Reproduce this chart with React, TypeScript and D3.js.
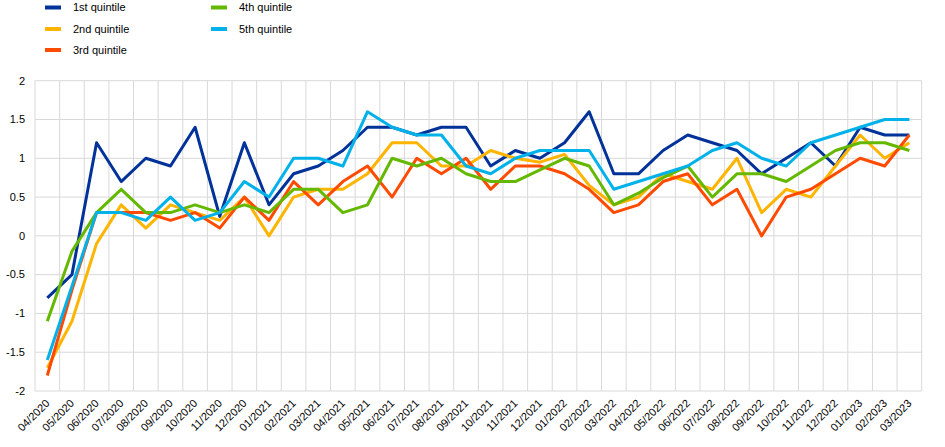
import { useEffect, useRef } from 'react';
import * as d3 from 'd3';

// months on the x axis
const months = [
  '04/2020', '05/2020', '06/2020', '07/2020', '08/2020', '09/2020', '10/2020', '11/2020', '12/2020',
  '01/2021', '02/2021', '03/2021', '04/2021', '05/2021', '06/2021', '07/2021', '08/2021', '09/2021',
  '10/2021', '11/2021', '12/2021', '01/2022', '02/2022', '03/2022', '04/2022', '05/2022', '06/2022',
  '07/2022', '08/2022', '09/2022', '10/2022', '11/2022', '12/2022', '01/2023', '02/2023', '03/2023',
];

const q1 = [-0.8, -0.5, 1.2, 0.7, 1.0, 0.9, 1.4, 0.25, 1.2, 0.4, 0.8, 0.9, 1.1, 1.4, 1.4, 1.3, 1.4, 1.4, 0.9, 1.1, 1.0, 1.2, 1.6, 0.8, 0.8, 1.1, 1.3, 1.2, 1.1, 0.8, 1.0, 1.2, 0.9, 1.4, 1.3, 1.3];
const q2 = [-1.7, -1.1, -0.1, 0.4, 0.1, 0.4, 0.3, 0.2, 0.5, 0.0, 0.5, 0.6, 0.6, 0.8, 1.2, 1.2, 0.9, 0.9, 1.1, 1.0, 0.95, 1.05, 0.65, 0.4, 0.5, 0.8, 0.7, 0.6, 1.0, 0.3, 0.6, 0.5, 0.9, 1.3, 1.0, 1.2];
const q3 = [-1.8, -0.7, 0.3, 0.3, 0.3, 0.2, 0.3, 0.1, 0.5, 0.2, 0.7, 0.4, 0.7, 0.9, 0.5, 1.0, 0.8, 1.0, 0.6, 0.9, 0.9, 0.8, 0.6, 0.3, 0.4, 0.7, 0.8, 0.4, 0.6, 0.0, 0.5, 0.6, 0.8, 1.0, 0.9, 1.3];
const q4 = [-1.1, -0.2, 0.3, 0.6, 0.3, 0.3, 0.4, 0.3, 0.4, 0.3, 0.6, 0.6, 0.3, 0.4, 1.0, 0.9, 1.0, 0.8, 0.7, 0.7, 0.85, 1.0, 0.9, 0.4, 0.55, 0.75, 0.9, 0.5, 0.8, 0.8, 0.7, 0.9, 1.1, 1.2, 1.2, 1.1];
const q5 = [-1.6, -0.65, 0.3, 0.3, 0.2, 0.5, 0.2, 0.3, 0.7, 0.5, 1.0, 1.0, 0.9, 1.6, 1.4, 1.3, 1.3, 0.9, 0.8, 1.0, 1.1, 1.1, 1.1, 0.6, 0.7, 0.8, 0.9, 1.1, 1.2, 1.0, 0.9, 1.2, 1.3, 1.4, 1.5, 1.5];

const seriesNames = ['1st quintile', '2nd quintile', '3rd quintile', '4th quintile', '5th quintile'];
const seriesValues = [q1, q2, q3, q4, q5];
const colors = ['#003299', '#ffb400', '#ff4b00', '#65b800', '#00b1ea'];
const yTicks = [-2, -1.5, -1, -0.5, 0, 0.5, 1, 1.5, 2];

const W = 945;
const H = 447;
const FONT = 'Arial, "Liberation Sans", sans-serif';

export default function App() {
  const ref = useRef<SVGSVGElement | null>(null);

  useEffect(() => {
    const svg = d3.select(ref.current);
    svg.selectAll('*').remove();

    const left = 35;
    const right = 921.7;
    const top = 80.7;
    const bottom = 391;

    const x = d3.scaleBand<string>().domain(months).range([left, right]);
    const y = d3.scaleLinear().domain([-2, 2]).range([bottom, top]);

    // grid
    const grid = svg.append('g').attr('stroke', '#d9d9d9').attr('stroke-width', 1);
    yTicks.forEach(t => {
      grid.append('line')
        .attr('x1', left).attr('x2', right)
        .attr('y1', y(t)).attr('y2', y(t));
    });
    months.forEach(m => {
      grid.append('line')
        .attr('x1', x(m)!).attr('x2', x(m)!)
        .attr('y1', top).attr('y2', bottom);
    });
    grid.append('line').attr('x1', right).attr('x2', right).attr('y1', top).attr('y2', bottom);

    // y labels
    svg.append('g')
      .selectAll('text')
      .data(yTicks)
      .join('text')
      .attr('x', 25)
      .attr('y', d => y(d))
      .attr('dy', '0.35em')
      .attr('text-anchor', 'end')
      .attr('font-family', FONT)
      .attr('font-size', 11)
      .attr('fill', '#000')
      .text(d => String(d));

    // x labels
    svg.append('g')
      .selectAll('text')
      .data(months)
      .join('text')
      .attr('transform', d => `translate(${x(d)! + x.bandwidth() / 2 + 3},${404}) rotate(-45)`)
      .attr('text-anchor', 'end')
      .attr('font-family', FONT)
      .attr('font-size', 11)
      .attr('fill', '#000')
      .text(d => d);

    // lines
    const line = d3.line<number>()
      .x((_, i) => x(months[i])! + x.bandwidth() / 2)
      .y(d => y(d));

    seriesValues.forEach((vals, i) => {
      svg.append('path')
        .datum(vals)
        .attr('fill', 'none')
        .attr('stroke', colors[i])
        .attr('stroke-width', 3)
        .attr('stroke-linejoin', 'round')
        .attr('d', line);
    });

    // legend
    const legendPos = [
      { sx: 45, tx: 73, y: 7.5 },
      { sx: 45, tx: 73, y: 29 },
      { sx: 45, tx: 73, y: 50 },
      { sx: 211, tx: 239, y: 7.5 },
      { sx: 211, tx: 239, y: 29 },
    ];
    const legend = svg.append('g');
    seriesNames.forEach((name, i) => {
      const p = legendPos[i];
      legend.append('rect')
        .attr('x', p.sx).attr('y', p.y - 2)
        .attr('width', 16).attr('height', 4)
        .attr('fill', colors[i]);
      legend.append('text')
        .attr('x', p.tx).attr('y', p.y)
        .attr('dy', '0.35em')
        .attr('font-family', FONT)
        .attr('font-size', 11)
        .attr('fill', '#000')
        .text(name);
    });
  }, []);

  return (
    <svg
      ref={ref}
      width={W}
      height={H}
      style={{ position: 'absolute', left: 0, top: 0, background: '#fff' }}
    />
  );
}
